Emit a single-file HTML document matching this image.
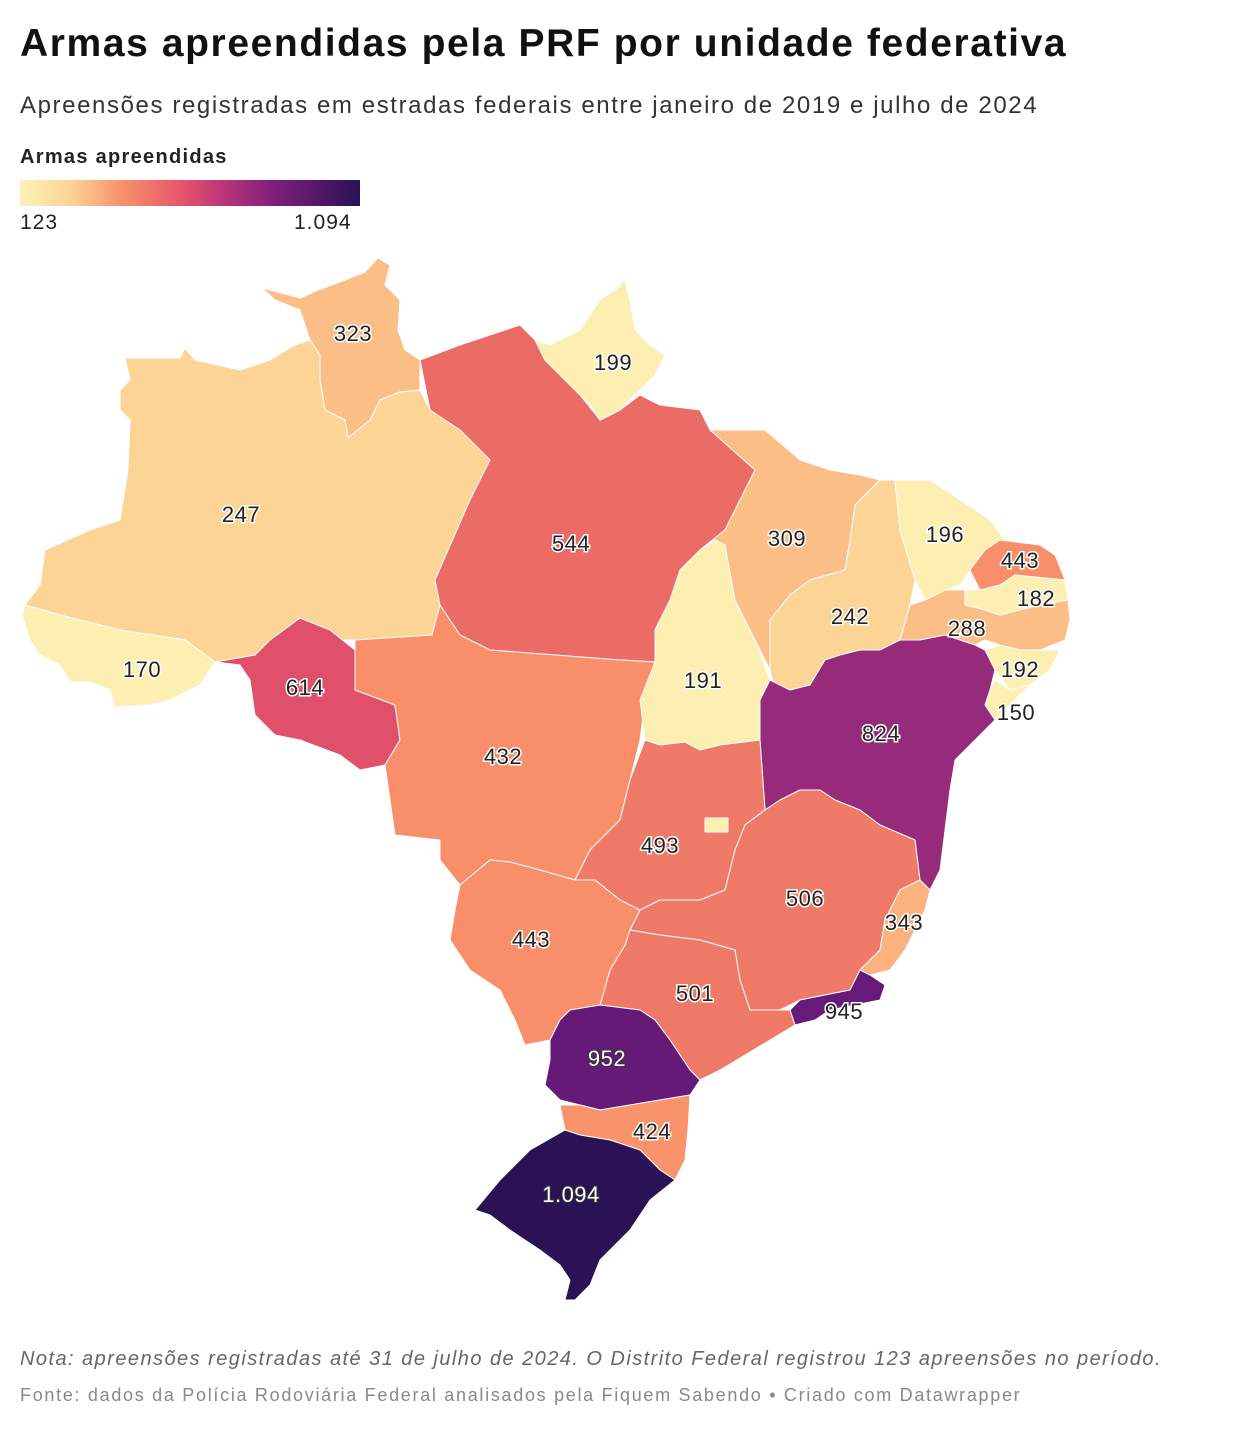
<!DOCTYPE html>
<html><head><meta charset="utf-8"><style>
body{margin:0;background:#fff;width:1240px;height:1430px;overflow:hidden;font-family:"Liberation Sans",sans-serif;position:relative}
.t{position:absolute;left:20px;top:22px;font-size:39px;font-weight:bold;color:#111;letter-spacing:1.6px}
.s{position:absolute;left:20px;top:92px;font-size:24px;color:#333;letter-spacing:1.6px}
.lt{position:absolute;left:20px;top:146px;font-size:20px;font-weight:bold;color:#222;letter-spacing:1.3px}
.grad{position:absolute;left:20px;top:180px;width:340px;height:26px;background:linear-gradient(90deg,#fdf1b8,#fcd495 15%,#f9906c 30%,#e6546a 48%,#bb3479 60%,#7e1f7c 75%,#2a1158)}
.l1{position:absolute;left:20px;top:211px;font-size:21px;color:#222;letter-spacing:1px}
.l2{position:absolute;left:294px;top:211px;font-size:21px;color:#222;letter-spacing:1px}
.n{position:absolute;left:20px;top:1348px;font-size:20px;font-style:italic;color:#666;letter-spacing:1.45px}
.f{position:absolute;left:20px;top:1385px;font-size:18px;color:#888;letter-spacing:1.7px}
svg{position:absolute;left:0;top:0}
svg polygon{stroke:#fff;stroke-width:1;stroke-linejoin:round}
svg text{font-family:"Liberation Sans",sans-serif;font-size:22px;letter-spacing:0.5px;text-anchor:middle;fill:#222;paint-order:stroke;stroke:#fff;stroke-width:3px}
</style></head><body>
<div class="t">Armas apreendidas pela PRF por unidade federativa</div>
<div class="s">Apreensões registradas em estradas federais entre janeiro de 2019 e julho de 2024</div>
<div class="lt">Armas apreendidas</div>
<div class="grad"></div>
<div class="l1">123</div><div class="l2">1.094</div>
<svg width="1240" height="1430">
<polygon fill="#fbbe86" points="262,288 300,298 318,290 340,282 365,272 378,258 390,265 385,285 400,300 398,330 405,350 420,360 420,390 400,392 380,400 370,420 348,438 345,420 325,410 320,380 320,355 310,340 300,310 275,300"/>
<polygon fill="#fcd596" points="125,358 180,358 185,348 195,360 240,370 270,360 295,345 310,340 320,355 320,380 325,410 345,420 348,438 370,420 380,400 400,392 420,390 430,410 460,430 490,460 470,500 435,580 440,605 432,635 355,640 340,640 300,618 270,640 255,655 215,662 185,640 120,630 60,615 25,605 40,585 45,550 90,530 120,520 128,470 130,420 120,410 120,390 130,380"/>
<polygon fill="#fdeeb1" points="25,605 60,615 120,630 185,640 215,662 200,685 170,700 150,705 115,707 110,690 90,682 70,682 60,665 40,655 30,640 22,615"/>
<polygon fill="#e0506a" points="215,662 255,655 270,640 300,618 330,630 355,650 355,690 395,705 400,740 385,765 360,770 340,755 300,740 275,735 255,715 250,680 240,665"/>
<polygon fill="#eb6b66" points="420,360 460,345 490,335 520,325 535,340 545,360 560,375 580,395 600,420 620,410 640,395 660,405 700,410 710,430 765,430 755,470 740,500 725,530 700,550 680,570 670,600 655,630 655,662 620,660 490,650 460,635 440,605 435,580 470,500 490,460 460,430 430,410"/>
<polygon fill="#fdeeb1" points="535,340 550,345 580,330 600,300 615,290 625,280 630,300 635,330 650,345 665,355 655,375 640,390 620,410 600,420 590,405 580,395 560,375 545,360"/>
<polygon fill="#f98e6a" points="355,640 432,635 440,605 460,635 490,650 620,660 655,662 645,700 640,740 630,780 620,820 590,850 575,880 540,870 510,862 490,860 460,885 440,860 440,840 395,835 390,800 385,765 400,740 395,705 355,690"/>
<polygon fill="#fdeeb1" points="700,550 715,540 725,545 735,600 755,640 770,680 760,700 760,740 720,745 700,750 685,742 660,745 645,740 640,700 655,662 655,630 670,600 680,570"/>
<polygon fill="#fbbe86" points="710,430 765,430 800,460 830,470 860,475 880,480 855,505 850,540 845,570 810,580 790,595 770,620 770,670 755,640 735,600 725,545 715,540 700,550 725,530 740,500 755,470"/>
<polygon fill="#fcd596" points="880,480 895,480 900,530 915,580 910,605 900,640 880,650 860,650 840,655 825,660 810,685 790,690 775,690 770,670 770,620 790,595 810,580 845,570 850,540 855,505"/>
<polygon fill="#fdeeb1" points="895,480 930,480 960,500 990,520 1005,540 985,550 970,570 960,585 945,590 925,600 915,580 900,530"/>
<polygon fill="#f98e6a" points="985,550 1000,540 1040,545 1055,555 1065,580 1045,578 1015,575 1000,585 980,590 970,570"/>
<polygon fill="#fdeeb1" points="965,590 980,590 1000,585 1015,575 1045,578 1065,580 1068,600 1040,605 1020,610 1000,615 985,610 965,605"/>
<polygon fill="#fbbe86" points="925,600 945,590 965,590 965,605 985,610 1000,615 1020,610 1040,605 1068,600 1070,620 1065,640 1040,650 1020,650 1000,645 985,640 975,645 960,640 945,635 920,640 900,640 910,605"/>
<polygon fill="#fdeeb1" points="985,650 1000,645 1020,650 1040,650 1060,650 1050,670 1030,685 1010,690 995,670"/>
<polygon fill="#fdeeb1" points="995,680 1010,690 1030,685 1010,705 995,720 985,705 990,690"/>
<polygon fill="#962b7b" points="770,680 790,690 810,685 825,660 840,655 860,650 880,650 900,640 920,640 945,635 960,640 975,645 985,650 995,670 990,690 985,705 995,720 975,740 955,760 950,790 945,830 940,870 930,890 920,880 915,840 880,825 860,810 835,800 820,790 800,790 780,800 765,810 760,740 760,700"/>
<polygon fill="#f07a68" points="645,740 660,745 685,742 700,750 720,745 760,740 765,810 745,825 735,850 725,890 700,900 660,900 640,910 620,900 595,880 575,880 590,850 620,820 630,780"/>
<polygon fill="#fdeeb1" points="705,818 728,818 728,832 705,832"/>
<polygon fill="#f07a68" points="765,810 780,800 800,790 820,790 835,800 860,810 880,825 915,840 920,880 900,890 885,920 880,950 860,970 850,990 800,1000 780,1010 750,1010 740,980 735,950 700,940 660,935 630,930 640,910 660,900 700,900 725,890 735,850 745,825"/>
<polygon fill="#fbb27e" points="920,880 930,890 925,910 915,930 905,950 890,970 870,975 860,970 880,950 885,920 900,890"/>
<polygon fill="#661a7a" points="860,970 870,975 885,985 880,1000 855,1005 830,1010 815,1020 795,1025 790,1010 800,1000 850,990"/>
<polygon fill="#f07a68" points="630,930 660,935 700,940 735,950 740,980 750,1010 780,1010 790,1010 795,1025 770,1040 745,1055 720,1070 700,1080 690,1070 670,1040 655,1020 640,1010 600,1005 610,970 625,945"/>
<polygon fill="#f98e6a" points="460,885 490,860 510,862 540,870 575,880 595,880 620,900 640,910 630,930 625,945 610,970 600,1005 570,1010 560,1020 550,1040 525,1045 515,1020 500,990 470,970 450,940 455,910"/>
<polygon fill="#651a78" points="570,1010 600,1005 640,1010 655,1020 670,1040 690,1070 700,1080 690,1095 660,1100 630,1105 600,1110 580,1105 560,1100 545,1085 550,1060 550,1040 560,1020"/>
<polygon fill="#f9936b" points="560,1105 580,1105 600,1110 630,1105 660,1100 690,1095 688,1130 685,1160 675,1180 660,1170 640,1150 610,1140 580,1135 565,1130 562,1115"/>
<polygon fill="#2a1255" points="565,1130 580,1135 610,1140 640,1150 660,1170 675,1180 650,1200 630,1230 600,1260 590,1285 575,1300 565,1300 570,1280 560,1265 540,1250 510,1230 490,1215 475,1210 500,1180 530,1150"/>
<text x="353" y="341">323</text><text x="241" y="522">247</text><text x="613" y="370">199</text>
<text x="571" y="551">544</text><text x="142" y="677">170</text><text x="305" y="695">614</text>
<text x="503" y="764">432</text><text x="703" y="688">191</text><text x="787" y="546">309</text>
<text x="850" y="624">242</text><text x="945" y="542">196</text><text x="1020" y="568">443</text>
<text x="1036" y="606">182</text><text x="967" y="636">288</text><text x="1020" y="677">192</text>
<text x="1016" y="720">150</text><text x="881" y="741">824</text><text x="660" y="853">493</text>
<text x="805" y="906">506</text><text x="904" y="930">343</text><text x="844" y="1019">945</text>
<text x="695" y="1001">501</text><text x="531" y="947">443</text><text x="607" y="1066" style="fill:#fff;stroke:#333;stroke-width:2px">952</text>
<text x="652" y="1139">424</text><text x="571" y="1202" style="fill:#fff;stroke:#333;stroke-width:2px">1.094</text>
</svg>
<div class="n">Nota: apreensões registradas até 31 de julho de 2024. O Distrito Federal registrou 123 apreensões no período.</div>
<div class="f">Fonte: dados da Polícia Rodoviária Federal analisados pela Fiquem Sabendo • Criado com Datawrapper</div>
</body></html>
